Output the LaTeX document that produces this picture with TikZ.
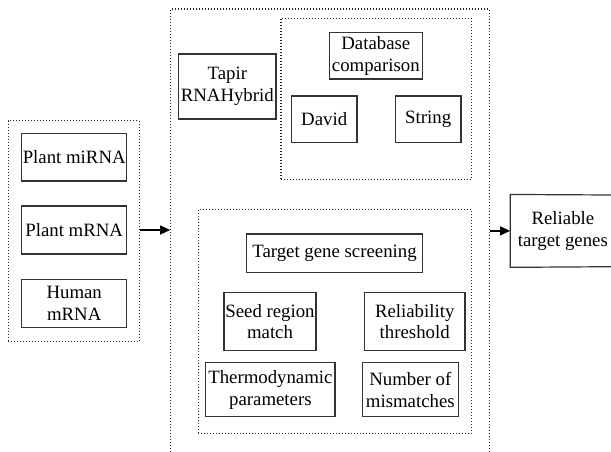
\documentclass[tikz,border=0pt]{standalone}
\usepackage{fontspec}
\setmainfont{Liberation Serif}
\usetikzlibrary{arrows.meta}
\begin{document}
\begin{tikzpicture}[x=1pt,y=-1pt,
  box/.style={draw=black!80, line width=1.2pt, inner sep=0pt, align=center, font=\fontsize{18.8}{21.8}\selectfont},
  dotbox/.style={draw=black!85, line width=1.1pt, dash pattern=on 0.9pt off 2.1pt, inner sep=0pt},
  arr/.style={line width=1.2pt, -{Triangle[length=10pt,width=9pt]}}]
\useasboundingbox (0,0) rectangle (611,451);
\fill[white] (0,0) rectangle (611,451);
\clip (0,0) rectangle (611,451);
% left group
\node[dotbox, minimum width=131pt, minimum height=221pt] (left) at (73.8,231.2) {};
\node[box, minimum width=105pt, minimum height=47.3pt] (pmi) at (74.2,157.3) {Plant miRNA};
\node[box, minimum width=105pt, minimum height=48pt] (pm) at (74.2,230) {Plant mRNA};
\node[box, minimum width=105pt, minimum height=48pt] (hm) at (74.2,303.3) {Human\\mRNA};
% outer group
\node[dotbox, minimum width=318.6pt, minimum height=451pt] (outer) at (330,234.5) {};
\node[box, minimum width=97.3pt, minimum height=65pt] (tapir) at (227.3,86.5) {Tapir\\RNAHybrid};
\node[dotbox, minimum width=190.7pt, minimum height=160.7pt] (top) at (376.3,98.7) {};
\node[box, minimum width=93pt, minimum height=46.7pt] (db) at (375.8,55.7) {Database\\comparison};
\node[box, minimum width=65.7pt, minimum height=46.3pt] (david) at (324.2,119.2) {David};
\node[box, minimum width=65.7pt, minimum height=46.3pt] (string) at (428.2,119.2) {String};
\node[dotbox, minimum width=273.4pt, minimum height=224pt] (bot) at (335,321.3) {};
\node[box, minimum width=175.6pt, minimum height=38.3pt] (tgs) at (334.5,253.2) {Target gene screening};
\node[box, minimum width=92pt, minimum height=58.4pt] (seed) at (270,321.5) {Seed region\\match};
\node[box, minimum width=100.7pt, minimum height=58.4pt] (rel) at (414.7,321.5) {Reliability\\threshold};
\node[box, minimum width=129.3pt, minimum height=54pt] (thermo) at (270.4,389.7) {Thermodynamic\\parameters};
\node[box, minimum width=96pt, minimum height=54pt] (num) at (410.3,389.7) {Number of\\mismatches};
% result (right edge runs off the page)
\node[box, draw=none, minimum width=104.3pt, minimum height=71.7pt] (res) at (562.9,230.9) {Reliable\\target genes};
\coordinate (rne) at (611,195);
\coordinate (rse) at (611,266.7);
\draw[draw=black!80, line width=1.2pt] (rne) -- (res.north west) -- (res.south west) -- (rse);
% arrows
\draw[arr] (left.east |- pm) -- (outer.west |- pm);
\draw[arr] (outer.east |- res.west) -- (res.west);
\end{tikzpicture}
\end{document}
